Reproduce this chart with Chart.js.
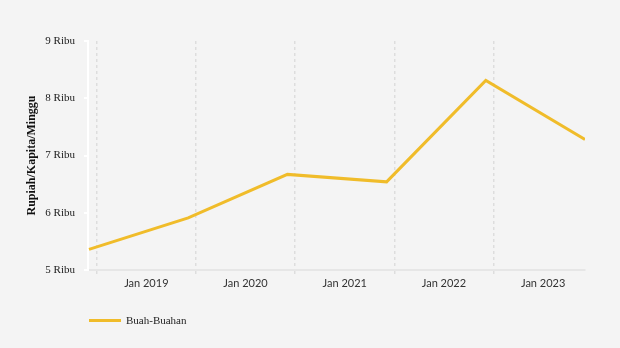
<!DOCTYPE html>
<html>
<head>
<meta charset="utf-8">
<script src="https://cdn.jsdelivr.net/npm/chart.js@4"></script>
<style>
  html, body { margin: 0; padding: 0; background: #f4f4f4; }
  #wrap { position: relative; width: 620px; height: 348px; }
  #legend { position: absolute; left: 89px; top: 314px; font: 11px "Liberation Serif", serif; color: #222; }
  #legend .item { display: flex; align-items: center; }
  #legend .swatch { display: inline-block; width: 32px; height: 3px; margin-right: 5px; }
</style>
</head>
<body>
<div id="wrap">
  <canvas id="chart" width="620" height="348"></canvas>
  <div id="legend"></div>
</div>
<script>
// Yearly spending on fruit, thousand rupiah per capita per week
const seriesName = 'Buah-Buahan';
const values = [5.36, 5.91, 6.67, 6.54, 8.31, 7.28];
const tickLabels = ['Jan 2019', 'Jan 2020', 'Jan 2021', 'Jan 2022', 'Jan 2023'];
const lineColor = '#f0bc2a';

// year boundaries sit just after each data point
const gridTicks = tickLabels.map((_, i) => i + 0.078);

const points = values.map((v, i) => ({ x: i, y: v }));

const chart = new Chart(document.getElementById('chart').getContext('2d'), {
  type: 'line',
  data: {
    datasets: [{
      label: seriesName,
      data: points,
      borderColor: lineColor,
      backgroundColor: lineColor,
      borderWidth: 3,
      pointRadius: 0,
      tension: 0
    }]
  },
  options: {
    responsive: false,
    animation: false,
    layout: { padding: { top: 41, right: 35, bottom: 48, left: 0 } },
    plugins: {
      legend: { display: false },
      tooltip: { enabled: false }
    },
    scales: {
      x: {
        type: 'linear',
        min: -0.01,
        max: 5.0,
        afterBuildTicks: (scale) => { scale.ticks = gridTicks.map(v => ({ value: v })); },
        afterFit: (scale) => { scale.height = 30; },
        grid: {
          color: '#dddddd',
          lineWidth: 1.5,
          tickBorderDash: [3, 3],
          tickLength: 4
        },
        border: { color: '#e6e6e6', width: 2, dash: [3, 3] },
        ticks: {
          autoSkip: false,
          maxRotation: 0,
          labelOffset: 49.6,
          padding: 3,
          color: '#333',
          font: { family: 'Lato', size: 11 },
          callback: (v, i) => tickLabels[i]
        }
      },
      y: {
        min: 5,
        max: 9,
        afterFit: (scale) => { scale.width = 88; },
        grid: {
          drawOnChartArea: false,
          color: '#ffffff',
          lineWidth: 2,
          tickLength: 4
        },
        border: { color: '#ffffff', width: 2 },
        ticks: {
          stepSize: 1,
          padding: 9,
          color: '#1a1a1a',
          font: { family: 'Liberation Serif', size: 11 },
          callback: (v) => v + ' Ribu'
        },
        title: {
          display: true,
          text: 'Rupiah/Kapita/Minggu',
          color: '#111',
          padding: { top: 25, bottom: 0 },
          font: { family: 'Liberation Serif', size: 12, weight: 'bold' }
        }
      }
    }
  }
});

// legend below the plot, built from the dataset
const legendEl = document.getElementById('legend');
chart.data.datasets.forEach(ds => {
  const item = document.createElement('div');
  item.className = 'item';
  const sw = document.createElement('span');
  sw.className = 'swatch';
  sw.style.background = ds.borderColor;
  item.appendChild(sw);
  item.appendChild(document.createTextNode(ds.label));
  legendEl.appendChild(item);
});
</script>
</body>
</html>
